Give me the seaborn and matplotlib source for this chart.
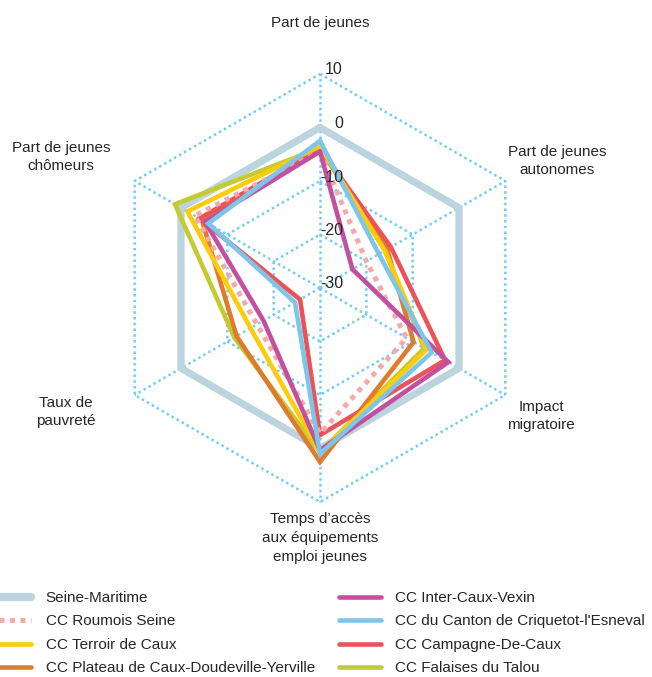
import numpy as np
import pandas as pd
import matplotlib.pyplot as plt
import seaborn as sns
from matplotlib.lines import Line2D

# axes of the radar, clockwise from the top
axis_labels = ['Part de jeunes', 'Part de jeunes\nautonomes', 'Impact\nmigratoire',
               'Temps d\u2019accès\naux équipements\nemploi jeunes', 'Taux de\npauvreté',
               'Part de jeunes\nchômeurs']
tick_values = [10, 0, -10, -20, -30]

territoires = ['Seine-Maritime', 'CC Roumois Seine', 'CC Terroir de Caux',
               'CC Plateau de Caux-Doudeville-Yerville', 'CC Inter-Caux-Vexin',
               'CC du Canton de Criquetot-l\'Esneval', 'CC Campagne-De-Caux',
               'CC Falaises du Talou']

seine_maritime = [0, 0, 0, 0, 0, 0]
roumois_seine = [-4.5, -20, -11.3, -2.8, -16.4, -3]
terroir_de_caux = [-3.5, -16, -7, 0.7, -15, -1.4]
plateau_de_caux = [-4, -15.5, -9.8, 2.5, -12, -4.5]
inter_caux_vexin = [-4.5, -23, -2.3, 0.3, -17.8, -5.2]
criquetot = [-2.5, -17.3, -5.9, 1.0, -24.6, -5.9]
campagne_de_caux = [-4, -14.7, -3, -2.5, -25.7, -4]
falaises_du_talou = [-3.8, -16, -7.5, 0.7, -11.5, 1.3]

series = dict(zip(territoires, [seine_maritime, roumois_seine, terroir_de_caux, plateau_de_caux,
                               inter_caux_vexin, criquetot, campagne_de_caux, falaises_du_talou]))

styles = {
    'Seine-Maritime': dict(color='#bcd4de', lw=5.2, ls='-'),
    'CC Roumois Seine': dict(color='#f6a9a9', lw=3.6, ls=(0, (1, 1.1))),
    'CC Terroir de Caux': dict(color='#fecc0a', lw=3.3, ls='-'),
    'CC Plateau de Caux-Doudeville-Yerville': dict(color='#e07a2c', lw=3.3, ls='-'),
    'CC Inter-Caux-Vexin': dict(color='#c2509e', lw=3.3, ls='-'),
    'CC du Canton de Criquetot-l\'Esneval': dict(color='#7dc6ea', lw=3.3, ls='-'),
    'CC Campagne-De-Caux': dict(color='#ea5459', lw=3.3, ls='-'),
    'CC Falaises du Talou': dict(color='#c4cb30', lw=3.3, ls='-'),
}
draw_order = ['Seine-Maritime', 'CC Falaises du Talou', 'CC Plateau de Caux-Doudeville-Yerville',
              'CC Campagne-De-Caux', 'CC Terroir de Caux', 'CC Roumois Seine',
              'CC Inter-Caux-Vexin', 'CC du Canton de Criquetot-l\'Esneval']

r_min, r_max = -30, 10
grid_color = '#72cdf2'

sns.set_style('white')
plt.rcParams['font.family'] = ['Liberation Sans', 'DejaVu Sans']
fs = 11

W, H = 652, 677
fig = plt.figure(figsize=(W / 100, H / 100), dpi=100)
cx, cy, scale = 320, 288, 5.35  # pixel centre, pixels per unit
half = 50
ax = fig.add_axes([(cx - half * scale) / W, (H - cy - half * scale) / H,
                   2 * half * scale / W, 2 * half * scale / H])
ax.set_xlim(-half, half)
ax.set_ylim(-half, half)
ax.set_axis_off()

n = len(axis_labels)
angles = np.deg2rad(90 - 360 / n * np.arange(n))


def to_xy(values):
    r = np.asarray(values, dtype=float) - r_min
    r = np.append(r, r[0])
    a = np.append(angles, angles[0])
    return r * np.cos(a), r * np.sin(a)


# hexagonal grid + spokes
for t in tick_values[:-1]:
    gx, gy = to_xy([t] * n)
    ax.plot(gx, gy, color=grid_color, lw=1.8, ls=(0, (1, 1.3)), zorder=0)
for a in angles:
    ax.plot([0, (r_max - r_min) * np.cos(a)], [0, (r_max - r_min) * np.sin(a)],
            color=grid_color, lw=1.8, ls=(0, (1, 1.3)), zorder=0)

rows = []
for name in territoires:
    x, y = to_xy(series[name])
    for i, (xx, yy) in enumerate(zip(x, y)):
        rows.append(dict(territoire=name, ordre=i, x=xx, y=yy))
df = pd.DataFrame(rows)

handles = {}
for name in draw_order:
    st = styles[name]
    sns.lineplot(data=df[df.territoire == name], x='x', y='y', sort=False, estimator=None,
                 color=st['color'], lw=st['lw'], ls=st['ls'], ax=ax, legend=False)
    ax.lines[-1].set_solid_joinstyle('miter')
    ax.lines[-1].set_dash_capstyle('butt')
    handles[name] = Line2D([], [], color=st['color'], lw=st['lw'] + 0.8 if name == 'Seine-Maritime' else st['lw'],
                           ls=st['ls'], dash_capstyle='butt')

# radial tick labels
for t in tick_values:
    ax.text(23 / scale, t - r_min + 4 / scale, str(t), ha='right', va='center', fontsize=fs + 0.5)

# axis labels (pixel positions)
label_pos = [(320, 23), (557, 161), (541, 416), (320, 538), (66, 412), (61, 157)]
for lab, (px, py) in zip(axis_labels, label_pos):
    fig.text(px / W, 1 - py / H, lab, ha='center', va='center', fontsize=fs,
             multialignment='center', linespacing=1.45)

fig.legend([handles[t] for t in territoires], territoires, ncol=2, loc='upper left',
           bbox_to_anchor=(-10 / W, 1 - 591 / H), frameon=False, fontsize=fs,
           handlelength=2.7, handletextpad=0.95, labelspacing=0.62, columnspacing=1.6,
           borderpad=0, borderaxespad=0)

fig.savefig('out.png', dpi=100)
